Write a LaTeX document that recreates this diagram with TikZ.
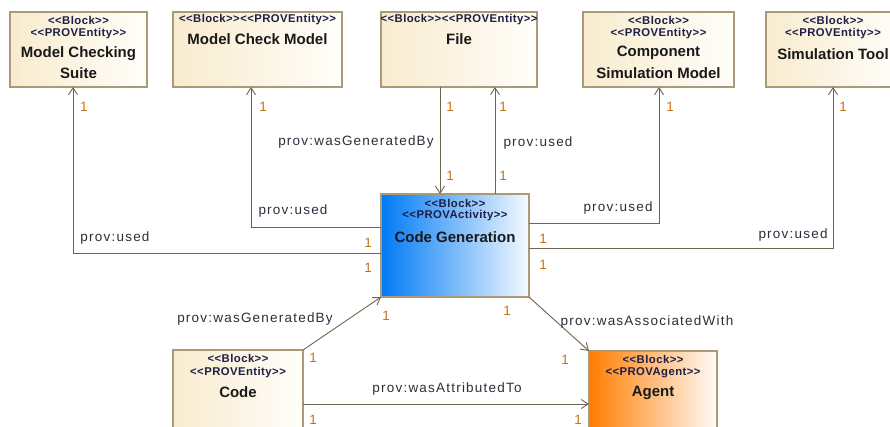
\documentclass[tikz,border=0pt]{standalone}
\usepackage{fontspec}
\setmainfont{Liberation Sans}
\newfontfamily\stfont[LetterSpace=4]{Liberation Sans}
\newfontfamily\lblfont[LetterSpace=9]{Liberation Sans}
\usetikzlibrary{arrows.meta,calc,shadows}

\definecolor{linec}{RGB}{110,100,80}
\definecolor{bordc}{RGB}{170,155,120}
\definecolor{entl}{RGB}{248,235,206}
\definecolor{entr}{RGB}{255,254,250}
\definecolor{actl}{RGB}{0,122,245}
\definecolor{actr}{RGB}{245,250,255}
\definecolor{agl}{RGB}{255,125,0}
\definecolor{agr}{RGB}{255,252,248}
\definecolor{multc}{RGB}{195,115,20}
\definecolor{lblc}{RGB}{45,45,60}
\definecolor{stc}{RGB}{30,30,70}

\tikzset{
  blk/.style={draw=bordc, line width=1.2pt, anchor=north west, inner sep=0pt, outer sep=0pt,
    drop shadow={shadow xshift=1.2pt, shadow yshift=-1.2pt, opacity=0.25, fill=black!60}},
  entity/.style={blk, left color=entl, right color=entr},
  activity/.style={blk, left color=actl, right color=actr},
  agentbox/.style={blk, left color=agl, right color=agr},
  st/.style={inner sep=0pt, text=stc, font=\stfont\fontsize{11.3}{13}\selectfont\bfseries},
  nm/.style={inner sep=0pt, text=black!90, font=\fontsize{15}{17}\selectfont\bfseries},
  lbl/.style={inner sep=0pt, text=lblc, font=\lblfont\fontsize{13.5}{16}\selectfont},
  mult/.style={inner sep=0pt, text=multc, font=\lblfont\fontsize{13.5}{16}\selectfont},
  conn/.style={draw=linec, line width=0.9pt},
  arr/.style={conn, -{Straight Barb[length=7pt,width=9pt]}},
}

\begin{document}
\begin{tikzpicture}[x=1pt, y=-1pt]
\useasboundingbox (0,0) rectangle (890,426);
\clip (0,0) rectangle (890,426);

% blocks
\node[entity, minimum width=137pt, minimum height=75pt] (mcs) at (10,12) {};
\node[entity, minimum width=169pt, minimum height=75pt] (mcm) at (173,12) {};
\node[entity, minimum width=156pt, minimum height=75pt] (file) at (381,12) {};
\node[entity, minimum width=151pt, minimum height=75pt] (csm) at (583,12) {};
\node[entity, minimum width=134pt, minimum height=75pt] (simt) at (766,12) {};
\node[activity, minimum width=148pt, minimum height=103pt] (cg) at (381,194) {};
\node[entity, minimum width=130pt, minimum height=90pt] (code) at (173,350) {};
\node[agentbox, minimum width=128pt, minimum height=90pt] (agent) at (589,351) {};

% block texts
\node[st] (mcs-s1) at ($(mcs.north)+(0,8)$) {<<Block>>};
\node[st] (mcs-s2) at ($(mcs.north)+(0,22)$) {<<PROVEntity>>};
\node[nm] (mcs-n1) at ($(mcs.north)+(0,42)$) {Model Checking};
\node[nm] (mcs-n2) at ($(mcs.north)+(0,61)$) {Suite};

\node[st] (mcm-s) at ($(mcm.north)+(0,8)$) {<<Block>><<PROVEntity>>};
\node[nm] (mcm-n) at ($(mcm.north)+(0,27)$) {Model Check Model};

\node[st] (file-s) at ($(file.north)+(0,8)$) {<<Block>><<PROVEntity>>};
\node[nm] (file-n) at ($(file.north)+(0,27)$) {File};

\node[st] (csm-s1) at ($(csm.north)+(0,8)$) {<<Block>>};
\node[st] (csm-s2) at ($(csm.north)+(0,22)$) {<<PROVEntity>>};
\node[nm] (csm-n1) at ($(csm.north)+(0,41)$) {Component};
\node[nm] (csm-n2) at ($(csm.north)+(0,61)$) {Simulation Model};

\node[st] (simt-s1) at ($(simt.north)+(0,8)$) {<<Block>>};
\node[st] (simt-s2) at ($(simt.north)+(0,22)$) {<<PROVEntity>>};
\node[nm] (simt-n) at ($(simt.north)+(0,42)$) {Simulation Tool};

\node[st] (cg-s1) at ($(cg.north)+(0,9)$) {<<Block>>};
\node[st] (cg-s2) at ($(cg.north)+(0,22)$) {<<PROVActivity>>};
\node[nm] (cg-n) at ($(cg.north)+(0,43)$) {Code Generation};

\node[st] (code-s1) at ($(code.north)+(0,8)$) {<<Block>>};
\node[st] (code-s2) at ($(code.north)+(0,23)$) {<<PROVEntity>>};
\node[nm] (code-n) at ($(code.north)+(0,42)$) {Code};

\node[st] (agent-s1) at ($(agent.north)+(0,8)$) {<<Block>>};
\node[st] (agent-s2) at ($(agent.north)+(0,22)$) {<<PROVAgent>>};
\node[nm] (agent-n) at ($(agent.north)+(0,42)$) {Agent};

% connectors
\draw[arr] ($(cg.north west)+(0,59)$) -| ($(mcs.south)+(-5.5,0)$);
\draw[arr] ($(cg.north west)+(0,33)$) -| ($(mcm.south)+(-6.5,0)$);
\draw[arr] ($(file.south)+(-19,0)$) -- ($(cg.north west)+(59,0)$);
\draw[arr] ($(cg.north west)+(114,0)$) -- ($(file.south)+(36,0)$);
\draw[arr] ($(cg.north east)+(0,29)$) -| ($(csm.south)+(0.5,0)$);
\draw[arr] ($(cg.north east)+(0,54)$) -| (simt.south);
\draw[arr] (code.north east) -- (cg.south west);
\draw[arr] (cg.south east) -- (agent.north west);
\draw[arr] ($(code.north east)+(0,54)$) -- ($(agent.north west)+(0,53)$);

% connector labels
\node[lbl] (l1) at (115,238) {prov:used};
\node[lbl] (l2) at (293,211) {prov:used};
\node[lbl] (l3) at (356,142) {prov:wasGeneratedBy};
\node[lbl] (l4) at (538,143) {prov:used};
\node[lbl] (l5) at (618,208) {prov:used};
\node[lbl] (l6) at (793,235) {prov:used};
\node[lbl] (l7) at (255,319) {prov:wasGeneratedBy};
\node[lbl] (l8) at (647,322) {prov:wasAssociatedWith};
\node[lbl] (l9) at (447,389) {prov:wasAttributedTo};

% multiplicities
\node[mult] (m1)  at (84,107) {1};
\node[mult] (m2)  at (263,107) {1};
\node[mult] (m3)  at (450,107) {1};
\node[mult] (m4)  at (450,176) {1};
\node[mult] (m5)  at (503,107) {1};
\node[mult] (m6)  at (503,176) {1};
\node[mult] (m7)  at (670,107) {1};
\node[mult] (m8)  at (843,107) {1};
\node[mult] (m9)  at (368,243) {1};
\node[mult] (m10) at (368,268) {1};
\node[mult] (m11) at (543,239) {1};
\node[mult] (m12) at (543,265) {1};
\node[mult] (m13) at (386,316) {1};
\node[mult] (m14) at (507,311) {1};
\node[mult] (m15) at (313,358) {1};
\node[mult] (m16) at (565,360) {1};
\node[mult] (m17) at (313,420) {1};
\node[mult] (m18) at (578,420) {1};
\end{tikzpicture}
\end{document}
